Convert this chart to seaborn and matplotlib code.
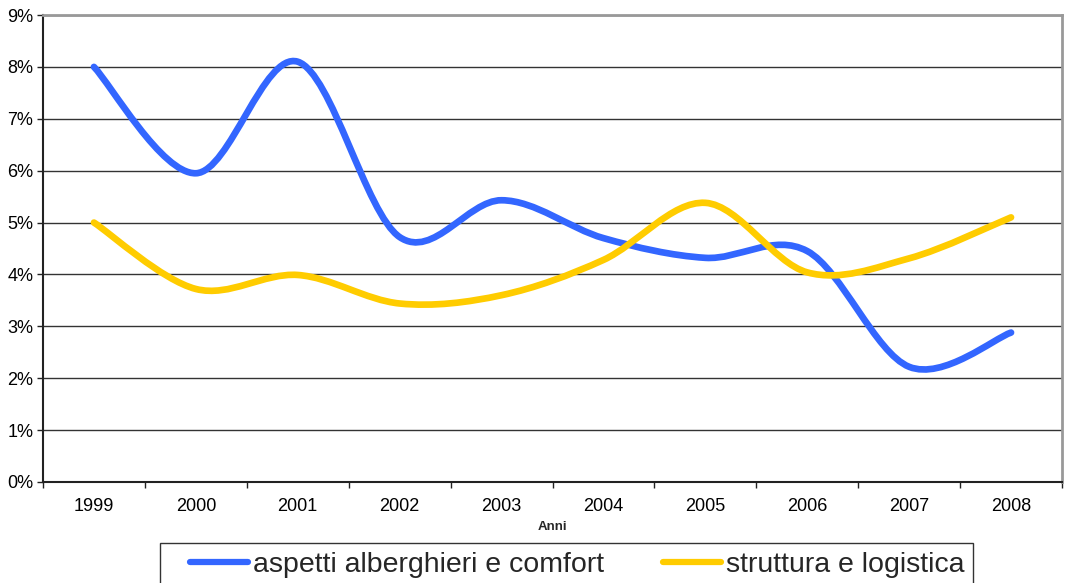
import numpy as np
import pandas as pd
import matplotlib.pyplot as plt
import seaborn as sns
from matplotlib.path import Path
from matplotlib.patches import PathPatch
from matplotlib.lines import Line2D
from matplotlib.legend_handler import HandlerLine2D
from matplotlib.ticker import PercentFormatter

# values (percent)
anni = [1999, 2000, 2001, 2002, 2003, 2004, 2005, 2006, 2007, 2008]
comfort = [8.0, 5.95, 8.1, 4.72, 5.43, 4.70, 4.32, 4.45, 2.22, 2.88]
logistica = [5.0, 3.72, 3.99, 3.44, 3.60, 4.28, 5.38, 4.04, 4.31, 5.10]
serie = ["aspetti alberghieri e comfort", "struttura e logistica"]
colori = ["#3366FF", "#FFCC00"]

df = pd.DataFrame({
    "Anni": anni * 2,
    "valore": comfort + logistica,
    "serie": [serie[0]] * len(anni) + [serie[1]] * len(anni),
})

sns.set_theme(style="ticks")
plt.rcParams["font.family"] = ["Liberation Sans", "DejaVu Sans"]

fig = plt.figure(figsize=(10.65, 5.83), dpi=100)
ax = fig.add_axes([43 / 1065, 1 - 482 / 583, (1062 - 43) / 1065, (482 - 15) / 583])

sns.lineplot(data=df, x="Anni", y="valore", hue="serie", hue_order=serie,
             palette=dict(zip(serie, colori)), linewidth=4.8, ax=ax)


def smooth_path(x, y):
    # Excel-style smoothed line: Catmull-Rom segments drawn as cubic Bezier
    pts = np.column_stack([x, y])
    ext = np.vstack([pts[0], pts, pts[-1]])
    verts = [pts[0]]
    codes = [Path.MOVETO]
    for i in range(len(pts) - 1):
        p0, p1, p2, p3 = ext[i], ext[i + 1], ext[i + 2], ext[i + 3]
        verts += [p1 + (p2 - p0) / 6, p2 - (p3 - p1) / 6, p2]
        codes += [Path.CURVE4] * 3
    return Path(verts, codes)


# swap the straight seaborn lines for smoothed curves
for line in list(ax.lines):
    x, y = line.get_xydata().T
    if len(x) < 2:
        continue
    ax.add_patch(PathPatch(smooth_path(x, y), fill=False, edgecolor=line.get_color(),
                           lw=line.get_linewidth(), capstyle="round", joinstyle="round"))
    line.remove()

ax.set_xlim(1998.5, 2008.5)
ax.set_ylim(0, 9)
ax.set_xticks(anni)
ax.set_xticks(np.arange(1998.5, 2009, 1), minor=True)
ax.set_yticks(range(10))
ax.yaxis.set_major_formatter(PercentFormatter(decimals=0))
ax.tick_params(axis="x", which="major", length=0, pad=11.5, labelsize=13, labelcolor="black")
ax.tick_params(axis="x", which="minor", length=4, width=1, color="#222222", direction="out")
ax.tick_params(axis="y", length=4, width=1, color="#222222", pad=3, labelsize=13, labelcolor="black")
ax.grid(axis="y", color="#333333", lw=1)
ax.set_axisbelow(True)

for s in ["left", "bottom"]:
    ax.spines[s].set_color("#222222")
    ax.spines[s].set_linewidth(1.5)
for s in ["top", "right"]:
    ax.spines[s].set_visible(True)
    ax.spines[s].set_color("#999999")
    ax.spines[s].set_linewidth(2)

ax.set_xlabel("Anni", fontsize=9.5, fontweight="bold", labelpad=4)
ax.set_ylabel("")

sns.move_legend(ax, "upper left", bbox_to_anchor=(160 / 1065, 1 - 543 / 583),
                bbox_transform=fig.transFigure, ncol=2, title="", frameon=True,
                fontsize=20.5, handlelength=2.8, handletextpad=0.18, columnspacing=1.3,
                borderaxespad=0, borderpad=0.3, fancybox=False, edgecolor="black",
                handler_map={Line2D: HandlerLine2D(xpad=0.77)})
leg = ax.get_legend()
leg.get_frame().set_linewidth(1)
for h in leg.legend_handles:
    h.set_linewidth(4.5)
    h.set_solid_capstyle("round")

fig.savefig("out.png", dpi=100)
